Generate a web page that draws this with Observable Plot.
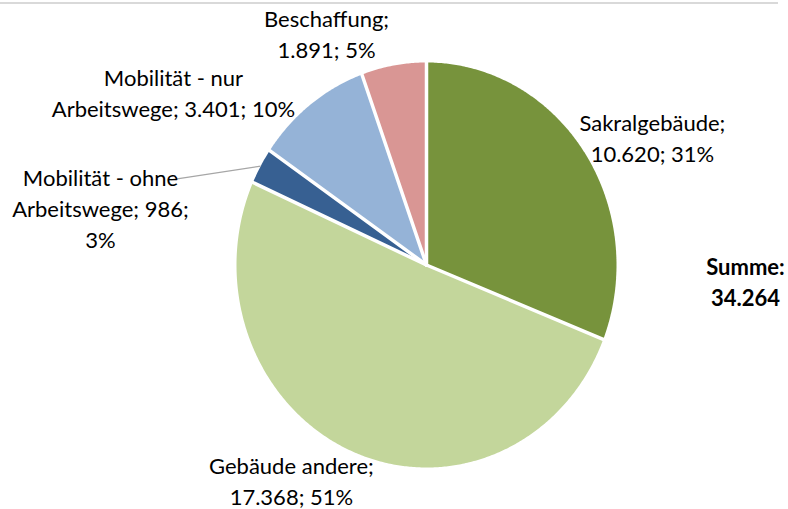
<!DOCTYPE html>
<html>
<head>
<meta charset="utf-8">
<script src="https://cdn.jsdelivr.net/npm/d3@7"></script>
<script src="https://cdn.jsdelivr.net/npm/@observablehq/plot@0.6"></script>
<style>
  html, body { margin: 0; padding: 0; background: #fff; }
  #wrap { position: relative; width: 788px; height: 509px; overflow: hidden; }
  #topline { position: absolute; left: 0; top: 2px; width: 778px; height: 2px; background: #d9d9d9; }
  svg { display: block; }
</style>
</head>
<body>
<div id="wrap"><div id="topline"></div></div>
<script>
// ---- data ----
const categories = ["Sakralgebäude", "Gebäude andere", "Mobilität - ohne Arbeitswege", "Mobilität - nur Arbeitswege", "Beschaffung"];
const values = [10620, 17368, 986, 3401, 1891];
const percents = [31, 51, 3, 10, 5];
const colors = ["#77933C", "#C3D69B", "#376092", "#95B3D7", "#D99694"];
const totalValue = 34264;
// label text line breaks (as wrapped in the original)
const labelBreaks = [
  ["Sakralgebäude;", "{v}; {p}"],
  ["Gebäude andere;", "{v}; {p}"],
  ["Mobilität - ohne", "Arbeitswege; {v};", "{p}"],
  ["Mobilität - nur", "Arbeitswege; {v}; {p}"],
  ["Beschaffung;", "{v}; {p}"]
];

// ---- layout (data units of the unit pie) ----
const labelXY = [[1.189, 0.632], [-0.711, -1.062], [-1.716, 0.286], [-1.332, 0.854], [-0.526, 1.146]];
const leaderEnd = [-1.347, 0.42];
const totalXY = [1.679, -0.079];

const de = d3.formatLocale({decimal: ",", thousands: ".", grouping: [3], currency: ["", "€"]});
const fmt = de.format(",d");

const rows = categories.map((c, i) => ({cat: c, value: values[i], i}));
const arcs = d3.pie().sort(null).value(d => d.value)(rows);

const pts = [];
for (const a of arcs) {
  pts.push({cat: a.data.cat, x: 0, y: 0});
  const n = Math.max(2, Math.ceil((a.endAngle - a.startAngle) / (Math.PI / 360)));
  for (let k = 0; k <= n; k++) {
    const t = a.startAngle + (a.endAngle - a.startAngle) * k / n;
    pts.push({cat: a.data.cat, x: Math.sin(t), y: Math.cos(t)});
  }
  pts.push({cat: a.data.cat, x: 0, y: 0});
}

const labels = arcs.map((a, i) => {
  const pct = percents[i] + "%";
  const txt = labelBreaks[i].map(l => l.replace("{v}", fmt(a.data.value)).replace("{p}", pct)).join("\n");
  return {txt, x: labelXY[i][0], y: labelXY[i][1]};
});

const mobOhne = arcs[2];
const mid = (mobOhne.startAngle + mobOhne.endAngle) / 2;
const leader = [{x1: Math.sin(mid), y1: Math.cos(mid), x2: leaderEnd[0], y2: leaderEnd[1]}];

const FS = 22;
const LH = 31 / FS;

const chart = Plot.plot({
  width: 788,
  height: 509,
  marginLeft: 236,
  marginRight: 172,
  marginTop: 62,
  marginBottom: 42,
  x: {domain: [-1, 1], axis: null},
  y: {domain: [-1, 1], axis: null},
  color: {domain: categories, range: colors},
  style: {fontFamily: "Lato, sans-serif", fontSize: FS + "px", color: "#000", background: "transparent"},
  marks: [
    Plot.line(pts, {x: "x", y: "y", z: "cat", fill: "cat", stroke: "none", curve: "linear"}),
    Plot.link(arcs, {x1: () => 0, y1: () => 0, x2: d => Math.sin(d.startAngle), y2: d => Math.cos(d.startAngle), stroke: "white", strokeWidth: 3.5, strokeLinecap: "round"}),
    Plot.link(leader, {x1: "x1", y1: "y1", x2: "x2", y2: "y2", stroke: "#A6A6A6", strokeWidth: 1.3}),
    Plot.text(labels, {x: "x", y: "y", text: "txt", fill: "#000", fontSize: FS, lineHeight: LH, textAnchor: "middle"}),
    Plot.text([{x: totalXY[0], y: totalXY[1], txt: "Summe:\n" + fmt(totalValue)}], {x: "x", y: "y", text: "txt", fill: "#000", fontSize: FS, fontWeight: "bold", lineHeight: LH, textAnchor: "middle"})
  ]
});
document.getElementById("wrap").appendChild(chart);
chart.style.position = "absolute";
chart.style.left = "0";
chart.style.top = "0";
</script>
</body>
</html>
